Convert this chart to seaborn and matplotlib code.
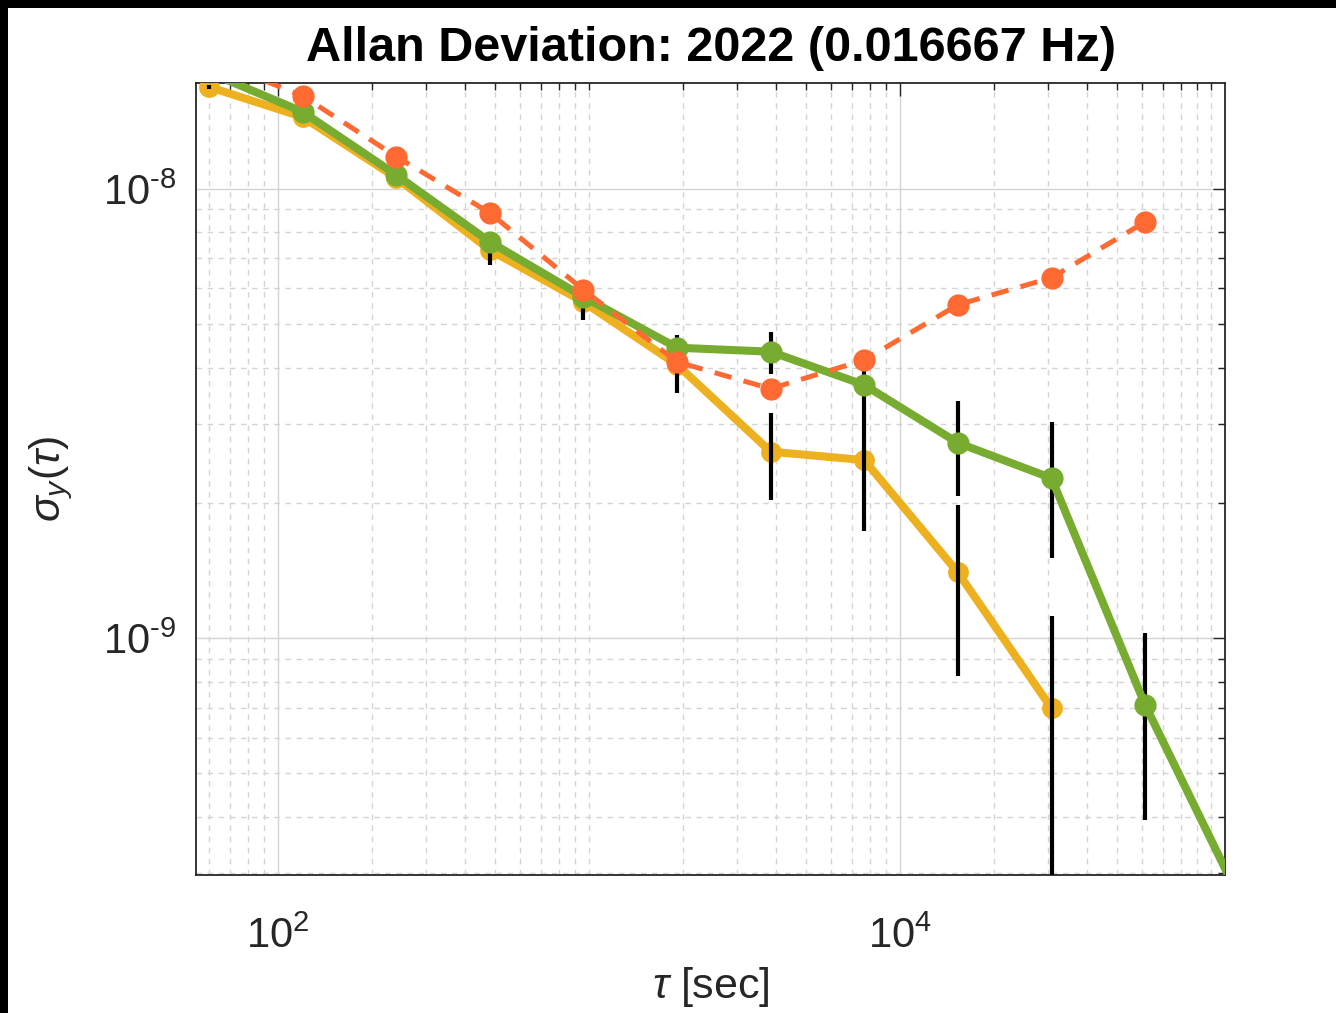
"""Allan deviation, 2022 (0.016667 Hz)."""

import matplotlib
matplotlib.use("Agg")
import matplotlib.pyplot as plt
import matplotlib.patches as mpatches
import numpy as np
import pandas as pd
import seaborn as sns
from matplotlib.ticker import FixedLocator, FuncFormatter, LogLocator, NullFormatter

# averaging times [s]
tau = [60, 120, 240, 480, 960, 1920, 3840, 7680, 15360, 30720, 61440, 122880]

# three Allan deviation series
adev_orange = [1.95e-8, 1.61e-8, 1.18e-8, 8.84e-9, 5.96e-9, 4.12e-9, 3.59e-9,
               4.16e-9, 5.52e-9, 6.34e-9, 8.44e-9]
adev_yellow = [1.686e-8, 1.445e-8, 1.058e-8, 7.31e-9, 5.60e-9, 4.06e-9, 2.60e-9,
               2.49e-9, 1.40e-9, 6.98e-10]
err_yellow = [0.15e-9, 0.15e-9, 0.25e-9, 0.55e-9, 0.5e-9, 0.55e-9, 0.57e-9,
              0.76e-9, 0.575e-9, 0.42e-9]
adev_green = [1.816e-8, 1.484e-8, 1.074e-8, 7.62e-9, 5.75e-9, 4.43e-9, 4.34e-9,
              3.66e-9, 2.72e-9, 2.27e-9, 7.10e-10, 2.66e-10]
err_green = [0.1e-9, 0.1e-9, 0.2e-9, 0.3e-9, 0.3e-9, 0.3e-9, 0.46e-9,
             0.4e-9, 0.65e-9, 0.76e-9, 0.316e-9, 0.1e-9]

x_ticks = [1e2, 1e4]
y_ticks = [1e-9, 1e-8]

C_ORANGE = "#ff6932"
C_YELLOW = "#edb120"
C_GREEN = "#77ac30"
TXT = "#262626"

sns.set_theme(style="white")
plt.rcParams["font.family"] = ["Liberation Sans", "DejaVu Sans"]
plt.rcParams["mathtext.fontset"] = "custom"
plt.rcParams["mathtext.rm"] = "Liberation Sans"
plt.rcParams["mathtext.it"] = "Liberation Sans:italic"


def pow10(v, _pos):
    e = int(round(np.log10(v)))
    s = str(e).replace("-", "\u2010")
    return rf"$10^{{{s}}}$"


fig = plt.figure(figsize=(13.36, 10.13), dpi=100, facecolor="black")
fig.patches.append(mpatches.Rectangle((8 / 1336, 0), 1, (1013 - 8) / 1013,
                                      transform=fig.transFigure, facecolor="white",
                                      edgecolor="none", zorder=-10))
ax = fig.add_axes([196 / 1336, 138 / 1013, (1225 - 196) / 1336, (875 - 83) / 1013])
ax.set_facecolor("white")

df_y = pd.DataFrame({"tau": tau[:len(adev_yellow)], "adev": adev_yellow})
df_g = pd.DataFrame({"tau": tau[:len(adev_green)], "adev": adev_green})
df_o = pd.DataFrame({"tau": tau[:len(adev_orange)], "adev": adev_orange})

sns.lineplot(data=df_y, x="tau", y="adev", ax=ax, color=C_YELLOW, lw=5.8,
             marker="o", markersize=15, markeredgewidth=0, zorder=3)
ax.errorbar(df_y["tau"], df_y["adev"], yerr=err_yellow, fmt="none",
            ecolor="black", elinewidth=3, capsize=0, zorder=4)
ax.errorbar(df_g["tau"], df_g["adev"], yerr=err_green, fmt="none",
            ecolor="black", elinewidth=3, capsize=0, zorder=4)
sns.lineplot(data=df_g, x="tau", y="adev", ax=ax, color=C_GREEN, lw=5.8,
             marker="o", markersize=16, markeredgewidth=0, zorder=5)
sns.lineplot(data=df_o, x="tau", y="adev", ax=ax, color=C_ORANGE, lw=3.6,
             linestyle=(0, (3.5, 2.5)), marker="o", markersize=16,
             markeredgewidth=0, zorder=6)

ax.set_xscale("log")
ax.set_yscale("log")
ax.set_xlim(54.5, 111000)
ax.set_ylim(2.97e-10, 1.72e-8)

ax.xaxis.set_major_locator(FixedLocator(x_ticks))
ax.xaxis.set_major_formatter(FuncFormatter(pow10))
ax.xaxis.set_minor_locator(LogLocator(base=10, subs=np.arange(1, 10)))
ax.xaxis.set_minor_formatter(NullFormatter())
ax.yaxis.set_major_locator(FixedLocator(y_ticks))
ax.yaxis.set_major_formatter(FuncFormatter(pow10))
ax.yaxis.set_minor_locator(LogLocator(base=10, subs=np.arange(2, 10)))
ax.yaxis.set_minor_formatter(NullFormatter())

ax.grid(True, which="major", color="#d4d4d4", lw=1.0, ls="-")
ax.grid(True, which="minor", color="#d4d4d4", lw=1.0, ls=(0, (4, 4)))
ax.set_axisbelow(True)

ax.tick_params(which="both", direction="in", top=True, right=True,
               colors=TXT, labelsize=30, width=1.0)
ax.tick_params(which="major", length=9)
ax.tick_params(which="minor", length=5)
ax.tick_params(axis="x", which="major", pad=30)
ax.tick_params(axis="y", which="major", pad=14)
for s in ax.spines.values():
    s.set_color(TXT)
    s.set_linewidth(1.3)

ax.set_title("Allan Deviation: 2022 (0.016667 Hz)", fontsize=35,
             fontweight="bold", color="black", pad=16)
ax.set_xlabel(r"$\tau$ [sec]", fontsize=31, color=TXT, labelpad=6)
ax.set_ylabel(r"$\sigma_y(\tau)$", fontsize=31, color=TXT, labelpad=20)

fig.savefig("out.png", dpi=100, facecolor=fig.get_facecolor())
